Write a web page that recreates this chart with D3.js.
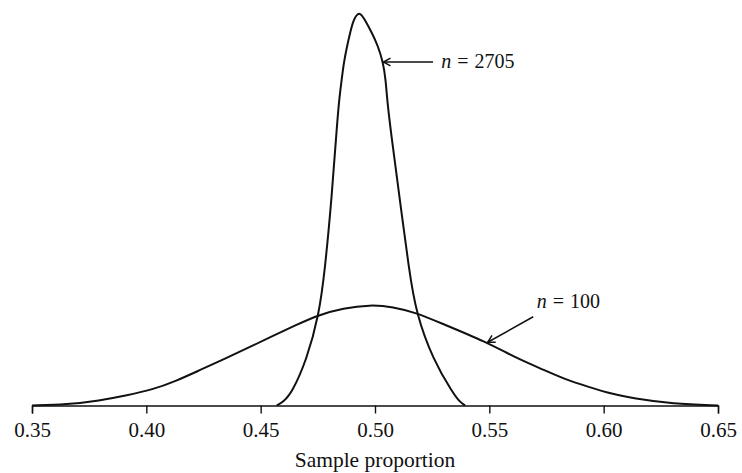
<!DOCTYPE html>
<html>
<head>
<meta charset="utf-8">
<script src="https://cdn.jsdelivr.net/npm/d3@7"></script>
<style>
  html, body { margin: 0; padding: 0; background: #fff; }
  svg { display: block; }
  text { font-family: "Liberation Serif", "DejaVu Serif", serif; fill: #111; }
</style>
</head>
<body>
<svg id="chart" width="742" height="473"></svg>
<script>
// Sample proportion values (x) and relative density heights (y)
const wideX = [0.350, 0.3653, 0.3797, 0.3907, 0.4029, 0.4130, 0.4235, 0.4344, 0.4453, 0.4672, 0.4755, 0.4860, 0.4978, 0.5079, 0.5179, 0.5284, 0.5488, 0.5612, 0.5722, 0.5831, 0.5940, 0.6036, 0.6128, 0.6303, 0.650];
const wideY = [0.00, 0.07, 0.40, 0.78, 1.28, 1.96, 2.84, 3.74, 4.68, 6.60, 7.24, 7.78, 8.06, 7.90, 7.42, 6.62, 5.08, 3.84, 2.98, 2.08, 1.46, 0.92, 0.58, 0.12, 0.00];

const narrowX = [0.4570, 0.4599, 0.4636, 0.4701, 0.4755, 0.4781, 0.4811, 0.4832, 0.4843, 0.4854, 0.4864, 0.4878, 0.4891, 0.4905, 0.4931, 0.4956, 0.4987, 0.5013, 0.5035, 0.5047, 0.5053, 0.5070, 0.5107, 0.5149, 0.5179, 0.5254, 0.5341, 0.5370, 0.5394];
const narrowY = [0.00, 0.30, 1.00, 3.64, 7.24, 10.84, 16.70, 22.04, 24.44, 26.04, 27.48, 28.76, 29.80, 30.84, 31.60, 30.84, 29.80, 28.76, 27.48, 26.04, 24.44, 21.80, 16.70, 10.84, 7.42, 3.64, 1.00, 0.30, 0.00];

const tickValues = [0.35, 0.40, 0.45, 0.50, 0.55, 0.60, 0.65];
const axisTitle = "Sample proportion";

// Annotations (data coordinates)
const labels = ["2705", "100"];
const labelX = [0.5290, 0.5707];
const labelY = [26.98, 7.78];
const arrowFromX = [0.5254, 0.5692];
const arrowFromY = [27.48, 7.10];
const arrowToX = [0.5037, 0.5493];
const arrowToY = [27.48, 5.06];

const svg = d3.select("#chart");
const x = d3.scaleLinear().domain([0.35, 0.65]).range([32, 718]);
const y = d3.scaleLinear().domain([0, 32]).range([405.5, 5.5]);

// Axis
const axis = d3.axisBottom(x)
  .tickValues(tickValues)
  .tickFormat(d3.format(".2f"))
  .tickSize(8)
  .tickSizeOuter(8)
  .tickPadding(9);

const gAxis = svg.append("g")
  .attr("transform", `translate(0,${y(0)})`)
  .call(axis);
gAxis.select(".domain").attr("stroke", "#111").attr("stroke-width", 1.4);
gAxis.selectAll(".tick line").attr("stroke", "#111").attr("stroke-width", 1.4);
gAxis.selectAll(".tick text")
  .attr("font-family", '"Liberation Serif", serif')
  .attr("font-size", 21)
  .attr("fill", "#111");

svg.append("text")
  .attr("x", x(0.5))
  .attr("y", 467)
  .attr("text-anchor", "middle")
  .attr("font-size", 21.5)
  .text(axisTitle);

// Curves
const line = d3.line()
  .x(d => x(d[0]))
  .y(d => y(d[1]))
  .curve(d3.curveBasis);

const wide = wideX.map((v, i) => [v, wideY[i]]);
const narrow = narrowX.map((v, i) => [v, narrowY[i]]);

[wide, narrow].forEach(pts => {
  svg.append("path")
    .attr("d", line(pts))
    .attr("fill", "none")
    .attr("stroke", "#111")
    .attr("stroke-width", 2)
    .attr("stroke-linejoin", "round");
});

// Annotations
labels.forEach((lab, i) => {
  const x1 = x(arrowFromX[i]), y1 = y(arrowFromY[i]);
  const x2 = x(arrowToX[i]), y2 = y(arrowToY[i]);
  svg.append("line")
    .attr("x1", x1).attr("y1", y1).attr("x2", x2).attr("y2", y2)
    .attr("stroke", "#111").attr("stroke-width", 1.5);
  const ang = Math.atan2(y1 - y2, x1 - x2);
  const hl = 8, ha = 0.5;
  const p1 = [x2 + hl * Math.cos(ang + ha), y2 + hl * Math.sin(ang + ha)];
  const p2 = [x2 + hl * Math.cos(ang - ha), y2 + hl * Math.sin(ang - ha)];
  svg.append("path")
    .attr("d", `M${p1[0]},${p1[1]}L${x2},${y2}L${p2[0]},${p2[1]}`)
    .attr("fill", "none").attr("stroke", "#111").attr("stroke-width", 1.5);

  const t = svg.append("text")
    .attr("x", x(labelX[i]))
    .attr("y", y(labelY[i]))
    .attr("font-size", 20);
  t.append("tspan").attr("font-style", "italic").text("n");
  t.append("tspan").attr("dx", 6).text("=");
  t.append("tspan").attr("dx", 6).text(lab);
});
</script>
</body>
</html>
